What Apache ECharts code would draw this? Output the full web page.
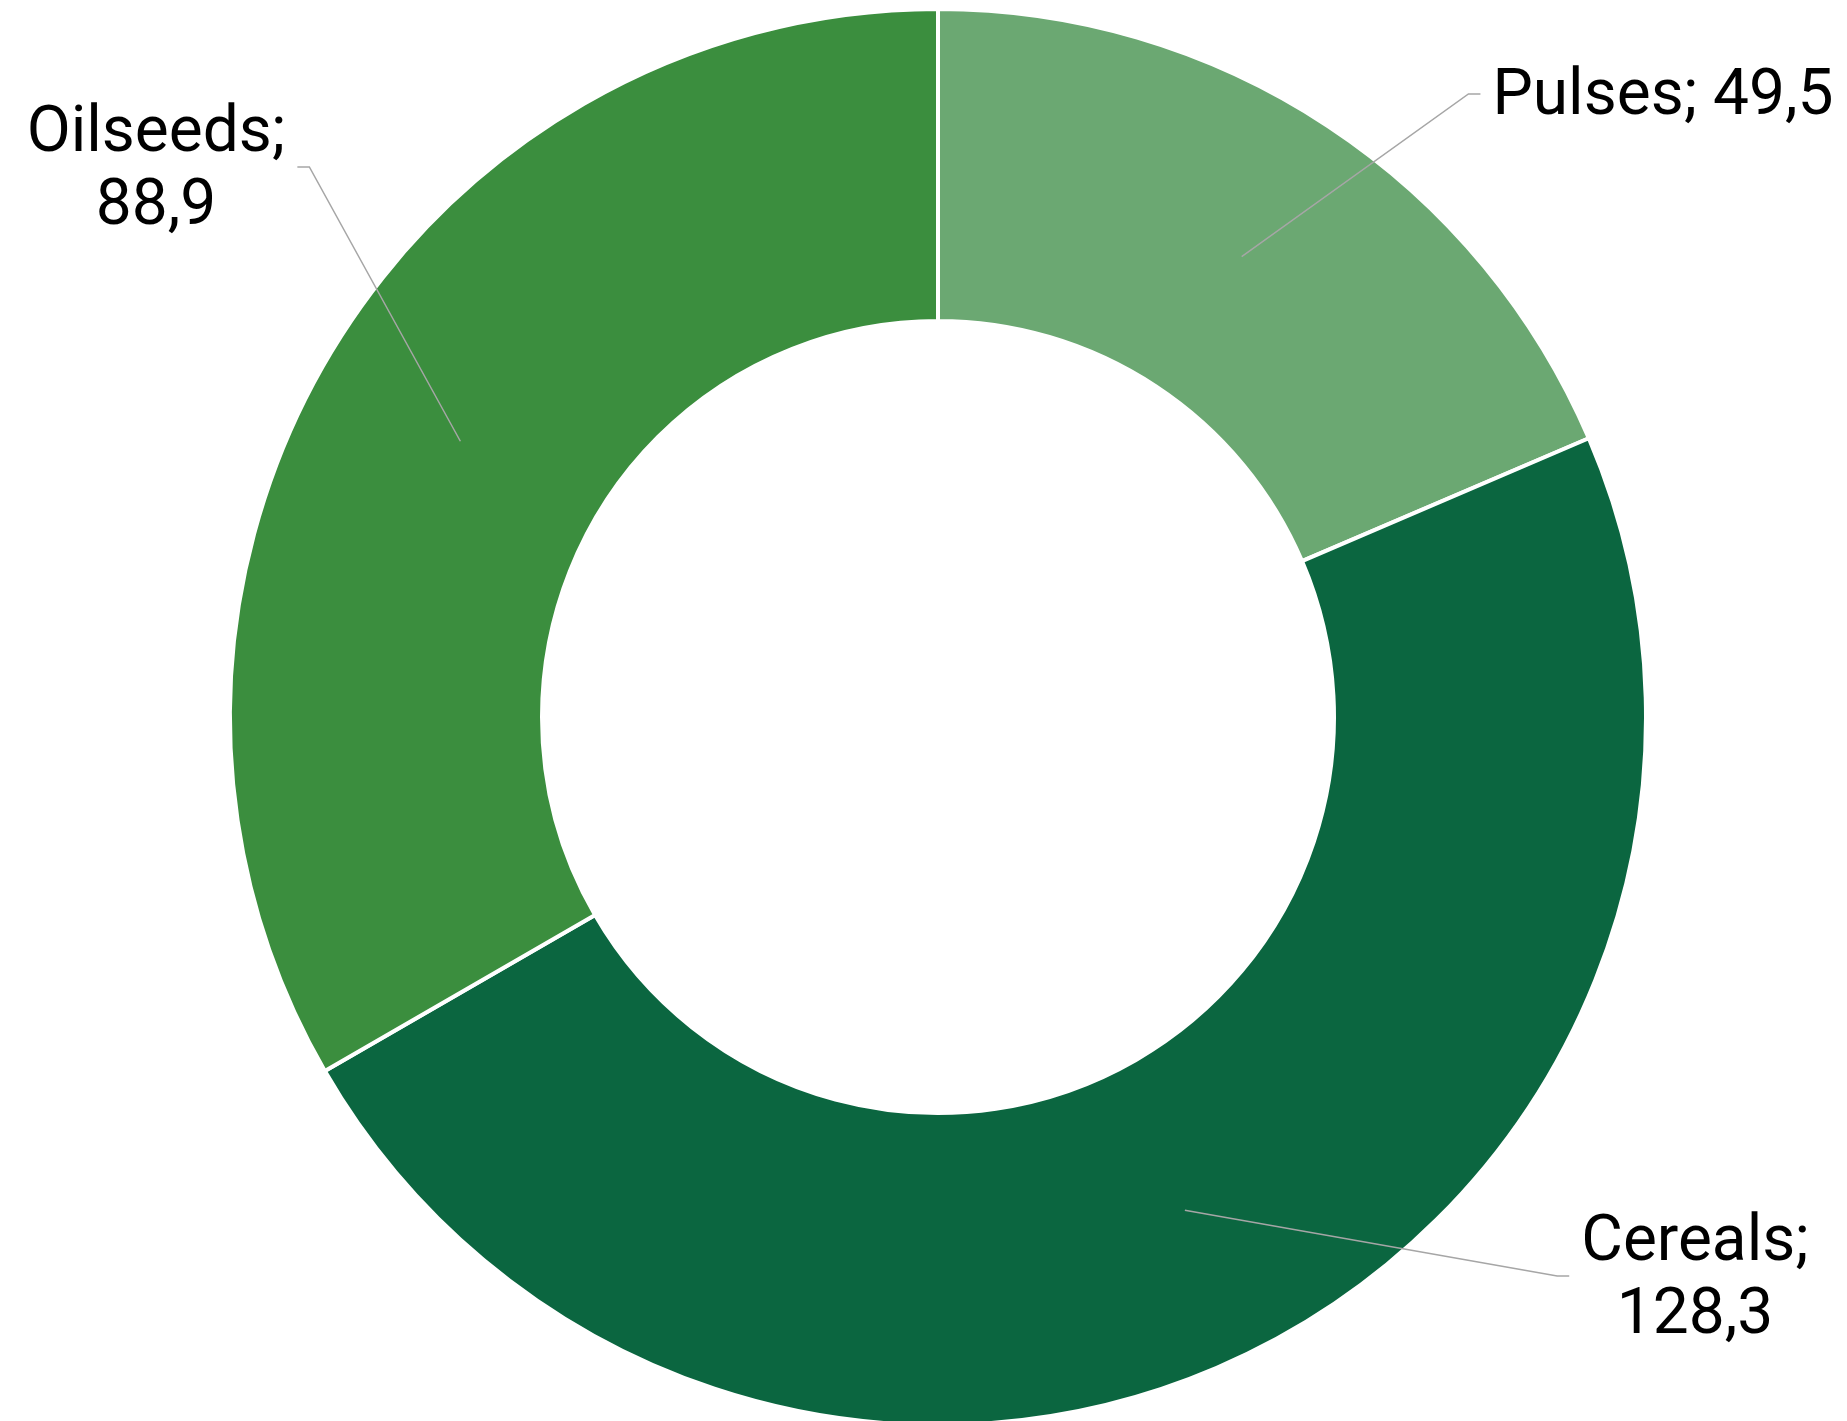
<!DOCTYPE html>
<html><head><meta charset="utf-8">
<script src="https://cdn.jsdelivr.net/npm/echarts@6/dist/echarts.min.js"></script>
<style>html,body{margin:0;padding:0;background:#fff}#c{width:1847px;height:1421px}</style>
</head><body><div id="c"></div>
<script>
// ---- data ----
const categories = ['Pulses', 'Cereals', 'Oilseeds'];
const values = [49.5, 128.3, 88.9];

// ---- styles / layout ----
const colors = ['#6ba872', '#0b6640', '#3b8e3e'];
const center = [938, 717];
const outerR = 708, innerR = 396, midR = 551.5;
const labelPos = [[1663, 98], [1695, 1280], [156, 171]]; // label block centres
const labelWrap = [false, true, true];
const fmt = v => v.toFixed(1).replace('.', ',');

const chart = echarts.init(document.getElementById('c'), null, {renderer: 'canvas'});
const total = values.reduce((a, b) => a + b, 0);

function fallbackStart(i) {
  let before = 0;
  for (let k = 0; k < i; k++) before += values[k];
  const th = (before + values[i] / 2) / total * Math.PI * 2;
  return [center[0] + midR * Math.sin(th), center[1] - midR * Math.cos(th)];
}

const option = {
  animation: false,
  backgroundColor: '#fff',
  series: [
    {
      type: 'pie', center: center, radius: [innerR, outerR], startAngle: 90, clockwise: true,
      silent: true, avoidLabelOverlap: false,
      data: categories.map((n, i) => ({name: n, value: values[i], itemStyle: {color: colors[i]}})),
      itemStyle: {borderColor: '#fff', borderWidth: 4},
      label: {show: false}, labelLine: {show: false},
      emphasis: {disabled: true}
    },
    {
      type: 'pie', center: center, radius: [0, midR], startAngle: 90, clockwise: true,
      silent: true, avoidLabelOverlap: false, z: 3,
      data: categories.map((n, i) => ({name: n, value: values[i]})),
      itemStyle: {color: 'rgba(0,0,0,0)', borderWidth: 0},
      label: {
        show: true, position: 'outside',
        formatter: p => p.name + (labelWrap[p.dataIndex] ? ';\n' : '; ') + fmt(p.value),
        fontFamily: 'Roboto', fontSize: 64, lineHeight: 73, color: '#000', align: 'center'
      },
      labelLine: {show: true, length: 10, length2: 10, lineStyle: {color: '#a6a6a6', width: 1.5}},
      labelLayout: function (p) {
        const i = p.dataIndex;
        const cx = labelPos[i][0], cy = labelPos[i][1];
        const w = p.labelRect.width;
        const right = cx > center[0];
        const start = (p.labelLinePoints && p.labelLinePoints[0]) ? p.labelLinePoints[0] : fallbackStart(i);
        const gap = 12, seg = 12, ly = cy - 4;
        const ex = right ? cx - w / 2 - gap : cx + w / 2 + gap;
        const mx = right ? ex - seg : ex + seg;
        return {x: cx, y: cy, align: 'center', verticalAlign: 'middle',
                labelLinePoints: [start, [mx, ly], [ex, ly]]};
      },
      emphasis: {disabled: true}
    }
  ]
};
chart.setOption(option);
</script>
</body></html>
